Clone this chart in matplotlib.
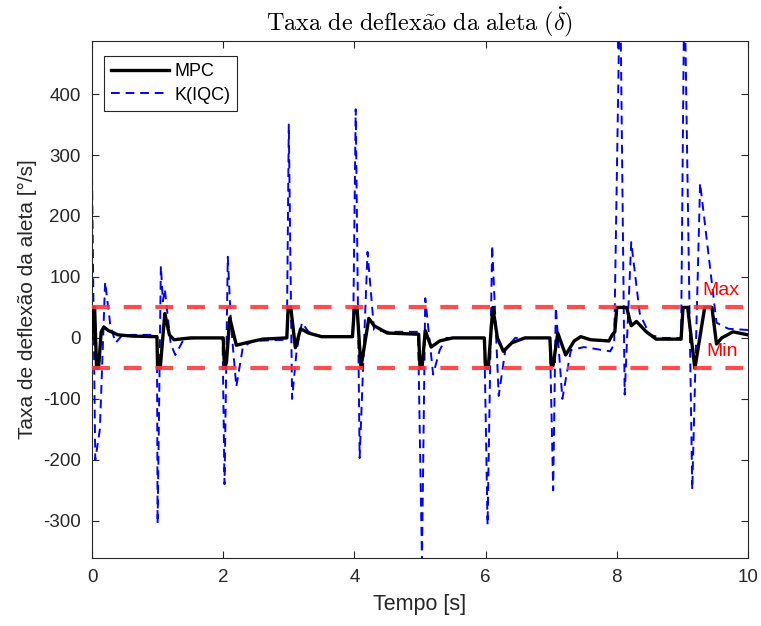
import matplotlib
matplotlib.use("Agg")
import matplotlib.pyplot as plt
import numpy as np

plt.rcParams['font.family'] = ['Liberation Sans', 'DejaVu Sans']
plt.rcParams['mathtext.fontset'] = 'cm'
plt.rcParams['axes.unicode_minus'] = False

# MPC fin deflection rate [deg/s]
t_mpc = [0.00, 0.01, 0.04, 0.07, 0.10, 0.14, 0.18, 0.25, 0.40, 0.60, 0.99,
         1.00, 1.04, 1.11, 1.18, 1.25, 1.50, 2.00,
         2.02, 2.05, 2.10, 2.20, 2.35, 2.60, 2.97,
         2.99, 3.03, 3.10, 3.18, 3.30, 3.50, 3.97,
         4.00, 4.04, 4.10, 4.22, 4.30, 4.50, 4.98,
         5.00, 5.03, 5.08, 5.17, 5.30, 5.50, 5.98,
         6.00, 6.04, 6.11, 6.18, 6.27, 6.40, 6.60, 6.98,
         7.00, 7.03, 7.10, 7.22, 7.35, 7.45, 7.60, 7.88, 7.93, 7.97,
         8.00, 8.15, 8.22, 8.30, 8.45, 8.60, 8.98,
         9.01, 9.08, 9.19, 9.34, 9.45, 9.52, 9.60, 9.77, 10.00]
v_mpc = [0, 50, 50, -50, -50, 10, 18, 12, 5, 3, 2,
         -50, -50, 40, 5, -3, 0, 0,
         -50, -40, 33, -12, -8, -2, 0,
         50, 50, -16, 15, 8, 2, 2,
         50, 50, -48, 32, 20, 8, 6,
         -50, -50, 12, -15, -5, 0, 0,
         -50, -50, 50, 0, -22, -8, 0, 0,
         -45, -45, 8, -28, -5, 2, -3, -5, 5, 10,
         50, 50, 20, 27, 10, -2, -2,
         50, 50, -50, 50, 50, -10, 0, 10, 5]

# K(IQC) fin deflection rate [deg/s]
t_k = [0.00, 0.05, 0.12, 0.20, 0.28, 0.36, 0.45, 0.60, 0.99,
       1.00, 1.05, 1.08, 1.11, 1.20, 1.27, 1.40, 1.60, 1.99,
       2.02, 2.07, 2.12, 2.20, 2.30, 2.45, 2.97,
       3.00, 3.05, 3.12, 3.20, 3.30, 3.50, 3.98,
       4.02, 4.08, 4.20, 4.30, 4.50, 4.97,
       5.03, 5.08, 5.20, 5.30, 5.40, 5.98,
       6.03, 6.10, 6.20, 6.30, 6.45, 6.98,
       7.03, 7.07, 7.17, 7.30, 7.50, 7.90, 7.96,
       8.05, 8.12, 8.22, 8.35, 8.50, 8.70, 8.98,
       9.03, 9.15, 9.27, 9.52, 9.70, 10.00]
v_k = [265, -200, -150, 92, 20, -8, 3, 5, 5,
       -305, 118, 60, 80, -10, -28, -2, 0, 0,
       -240, 133, 20, -80, -15, -5, -3,
       350, -100, -20, 25, 10, 2, 2,
       375, -197, 141, 13, 10, 10,
       -365, 65, -60, -20, 0, 0,
       -307, 152, -95, -20, 0, 0,
       -250, 50, -100, -20, -15, -22, -10,
       600, -93, 157, 40, 5, 0, 0,
       600, -249, 254, 25, 15, 13]

u_max = 50
u_min = -50

fig = plt.figure(figsize=(7.61, 6.26), dpi=100)
ax = fig.add_axes([92/761, 1 - 558/626, 656/761, 517/626])

gray = (0.15, 0.15, 0.15)
ax.plot(t_mpc, v_mpc, color='black', lw=2.4, label='MPC', zorder=3)
kline, = ax.plot(t_k, v_k, color=(0, 0, 1), lw=1.4, ls='--', label='K(IQC)', zorder=2)
kline.set_dashes((4.5, 3))

for lim in (u_max, u_min):
    ln = ax.axhline(lim, color=(1, 0.22, 0.22), lw=3, alpha=0.9, zorder=4)
    ln.set_dashes((4.3, 3.3))

ax.text(9.31, 78, 'Max', color='red', fontsize=14, va='center', ha='left')
ax.text(9.37, -23, 'Min', color='red', fontsize=14, va='center', ha='left')

ax.set_xlim(0, 10)
ax.set_ylim(-361, 487)
ax.set_xticks(np.arange(0, 11, 2))
ax.set_yticks(np.arange(-300, 401, 100))
ax.tick_params(direction='in', top=True, right=True, length=5, width=0.8,
               colors=gray, labelsize=13.5, labelcolor=gray, pad=8)
for s in ax.spines.values():
    s.set_color(gray)
    s.set_linewidth(0.8)

ax.set_xlabel('Tempo [s]', fontsize=15.5, color=gray, labelpad=6)
ax.set_ylabel('Taxa de deflexão da aleta [°/s]', fontsize=15, color=gray, labelpad=4)
ax.set_title(r'$\mathrm{Taxa\ de\ deflex\tilde{a}o\ da\ aleta\ }(\dot{\delta})$',
             fontsize=17.5, color='black', pad=7)

leg = ax.legend(loc='upper left', bbox_to_anchor=(0.018, 0.971), borderaxespad=0,
                fontsize=13, handlelength=3.2, frameon=True, fancybox=False,
                edgecolor=gray, framealpha=1, borderpad=0.4, labelspacing=0.35,
                handletextpad=0.3)
leg.get_frame().set_linewidth(0.8)
for txt in leg.get_texts():
    txt.set_color('black')

fig.savefig('out.png', dpi=100)
